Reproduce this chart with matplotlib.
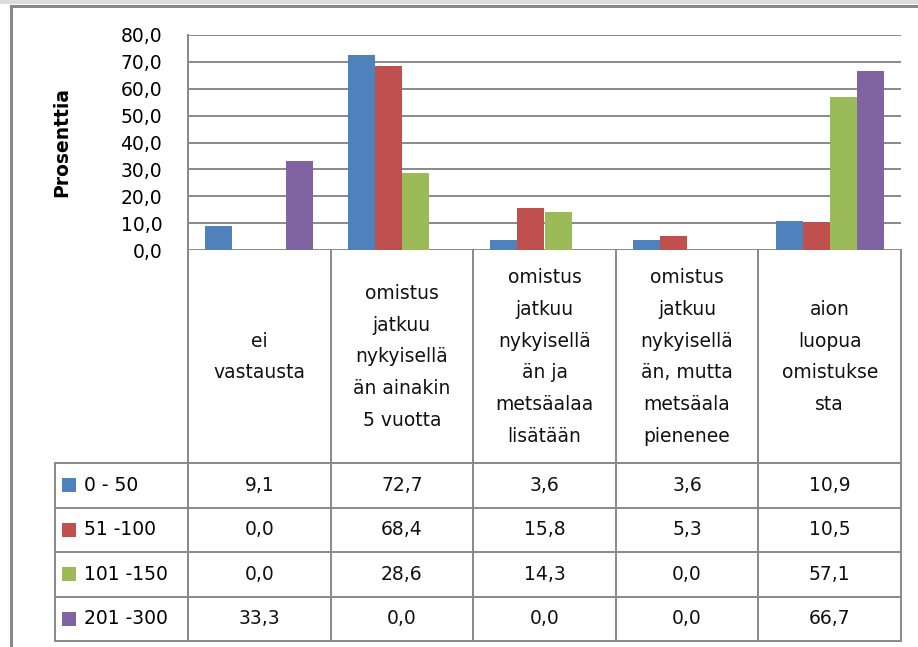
import matplotlib.pyplot as plt
from matplotlib.lines import Line2D

plt.rcParams['font.family'] = ['DejaVu Sans']

# categories (as wrapped in the chart)
categories = ["ei\nvastausta",
              "omistus\njatkuu\nnykyisellä\nän ainakin\n5 vuotta",
              "omistus\njatkuu\nnykyisellä\nän ja\nmetsäalaa\nlisätään",
              "omistus\njatkuu\nnykyisellä\nän, mutta\nmetsäala\npienenee",
              "aion\nluopua\nomistukse\nsta"]
series_names = ["0 - 50", "51 -100", "101 -150", "201 -300"]
s_0_50 = [9.1, 72.7, 3.6, 3.6, 10.9]
s_51_100 = [0.0, 68.4, 15.8, 5.3, 10.5]
s_101_150 = [0.0, 28.6, 14.3, 0.0, 57.1]
s_201_300 = [33.3, 0.0, 0.0, 0.0, 66.7]
series = [s_0_50, s_51_100, s_101_150, s_201_300]
colors = ["#4F81BD", "#C0504D", "#9BBB59", "#8064A2"]

W, H = 918, 647
fig = plt.figure(figsize=(9.18, 6.47), dpi=100)


def fx(px):
    return px / W


def fy(py):
    return 1 - py / H


grey = "#898989"
fs = 13.5

# main bar chart
ax = fig.add_axes([fx(188), fy(250), fx(901) - fx(188), fy(35) - fy(250)])
n = len(categories)
bw = 0.19
for i, (vals, c) in enumerate(zip(series, colors)):
    xs = [k + (i - 1.5) * bw for k in range(n)]
    ax.bar(xs, vals, width=bw, color=c, zorder=3)
ax.set_xlim(-0.5, n - 0.5)
ax.set_ylim(0, 80)
yt = list(range(0, 81, 10))
ax.set_yticks(yt)
ax.set_yticklabels([f"{v:.1f}".replace(".", ",") for v in yt], fontsize=fs)
ax.tick_params(axis="y", length=0, pad=18.5)
ax.set_xticks([])
ax.grid(axis="y", color=grey, lw=1.4, zorder=0)
for s in ["top", "right", "bottom"]:
    ax.spines[s].set_visible(False)
ax.spines["left"].set_color(grey)
ax.spines["left"].set_linewidth(1.4)
fig.text(fx(62), fy(142), "Prosenttia", rotation=90, ha="center", va="center",
         fontsize=fs, fontweight="bold")

# data table below
cw = (901 - 188) / n
x_left = -0.5 - (188 - 55) / cw
tab = fig.add_axes([fx(55), fy(641), fx(901) - fx(55), fy(250) - fy(641)])
tab.set_xlim(x_left, n - 0.5)
tab.set_ylim(641, 250)
tab.axis("off")

row_edges = [463, 507.5, 552, 596.5, 641]
for k in range(n + 1):
    tab.plot([k - 0.5, k - 0.5], [250, 641], color=grey, lw=1.4, clip_on=False)
tab.plot([x_left, x_left], [463, 641], color=grey, lw=1.4, clip_on=False)
for y in row_edges:
    tab.plot([x_left, n - 0.5], [y, y], color=grey, lw=1.4, clip_on=False)

for k, cat in enumerate(categories):
    tab.text(k, 357, cat, ha="center", va="center", fontsize=fs,
             linespacing=1.85, color="#111111")

for r, (name, vals, c) in enumerate(zip(series_names, series, colors)):
    yc = (row_edges[r] + row_edges[r + 1]) / 2
    tab.plot([x_left + 14 / cw], [yc], marker="s", ms=10, color=c, mew=0,
             clip_on=False)
    tab.text(x_left + 29 / cw, yc, name, ha="left", va="center", fontsize=fs)
    for k, v in enumerate(vals):
        tab.text(k, yc, f"{v:.1f}".replace(".", ","), ha="center", va="center",
                 fontsize=fs, color="#111111")

# outer chart frame
fig.add_artist(Line2D([0, 1], [fy(1.5), fy(1.5)], color="#dcdcdc", lw=3))
fig.add_artist(Line2D([fx(10.5), 1], [fy(5.5), fy(5.5)], color=grey, lw=2.2))
fig.add_artist(Line2D([fx(10.5), fx(10.5)], [fy(5.5), 0], color=grey, lw=2.2))

fig.savefig("out.png", dpi=100)
